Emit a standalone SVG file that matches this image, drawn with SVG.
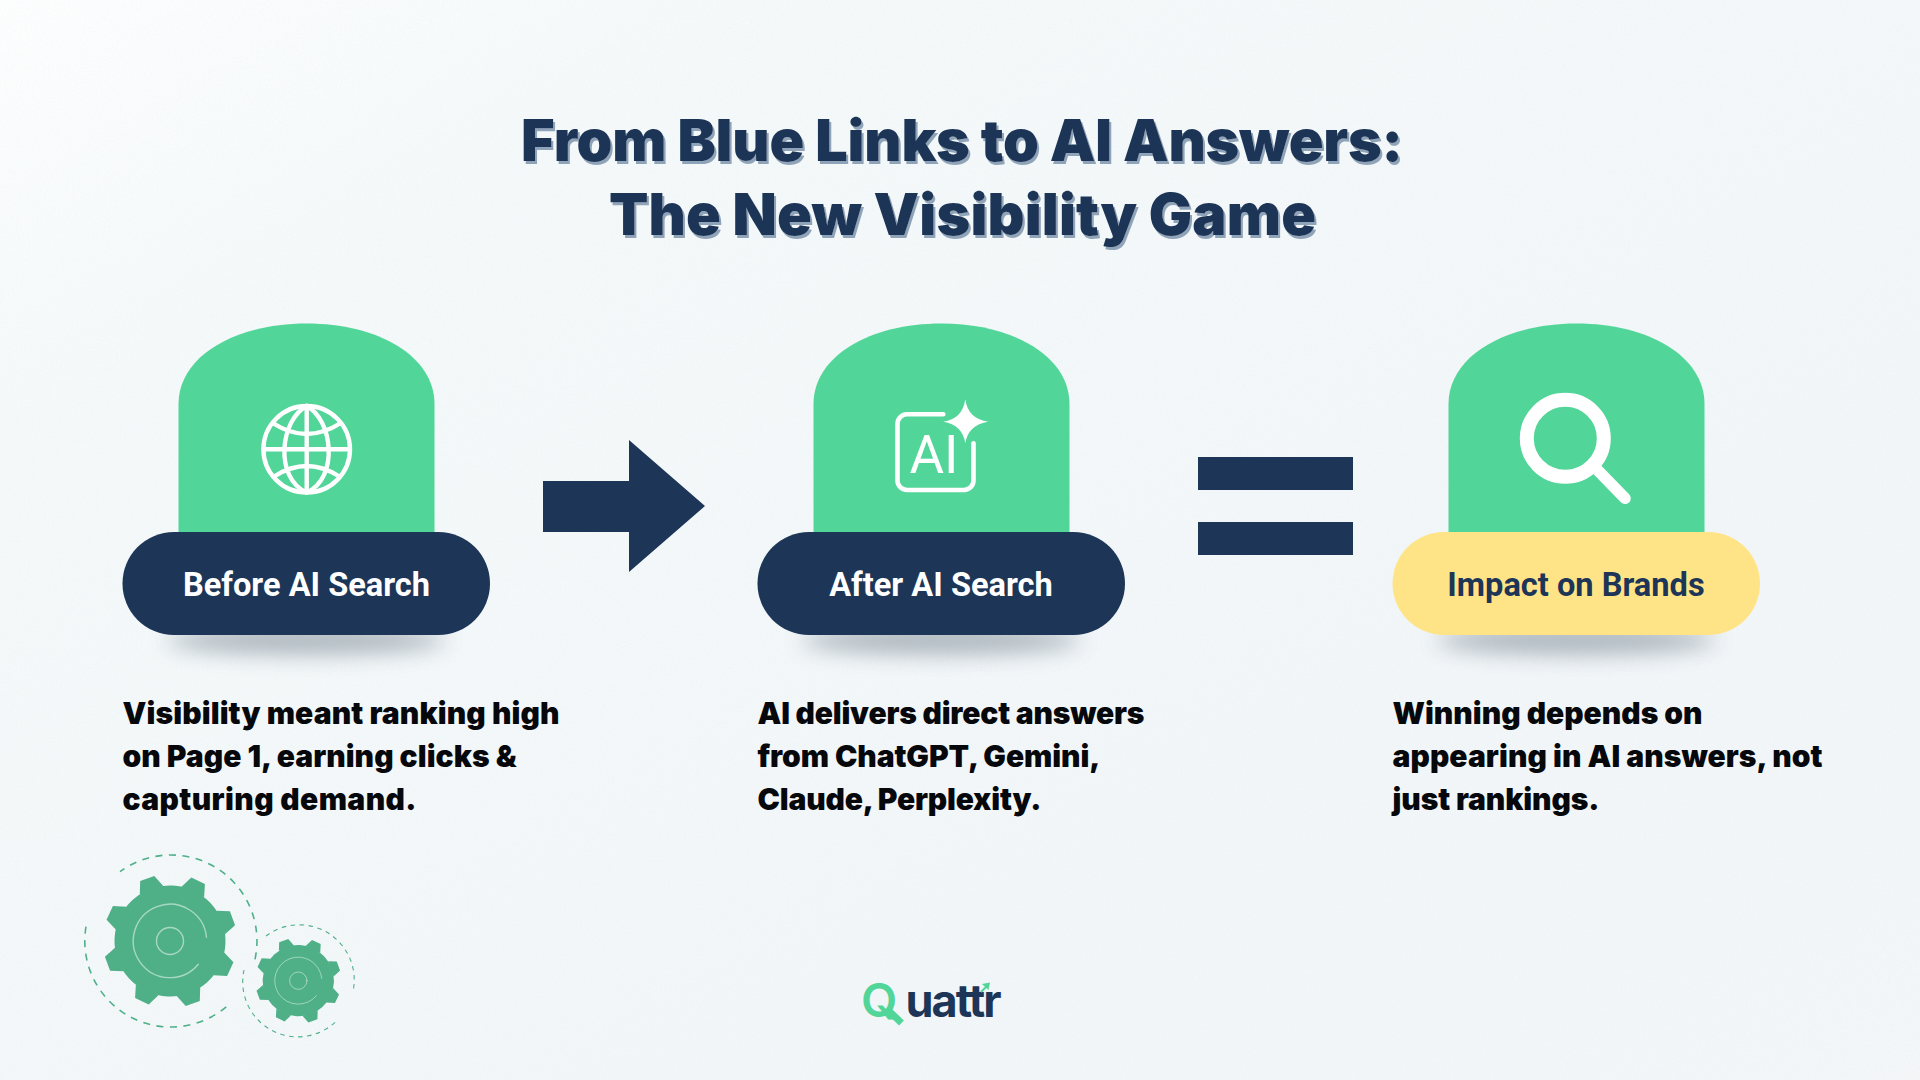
<svg xmlns="http://www.w3.org/2000/svg" xmlns:xlink="http://www.w3.org/1999/xlink" width="1920" height="1080" viewBox="0 0 1920 1080">
<style>
.title{font-family:"Inter","Liberation Sans",sans-serif;font-weight:900;font-size:57.5px;fill:#1d3557;filter:url(#ts)}
.label{font-family:Roboto,"Liberation Sans",sans-serif;font-weight:700;font-size:32.6px;text-anchor:middle}
.body{font-family:"Inter","Liberation Sans",sans-serif;font-weight:900;font-size:30px;fill:#07080c}
.dome{fill:#52d598}
.navy{fill:#1d3557}
.ic{fill:none;stroke:#fff;stroke-linecap:round;stroke-linejoin:round}
.dash{fill:none;stroke:#4fb088}
.arc{fill:none;stroke:#fff;stroke-opacity:.5;stroke-width:1.4;stroke-linecap:round}
</style>
<defs>
<linearGradient id="bg" x1="0" y1="0" x2="1" y2="1"><stop offset="0" stop-color="#fefefe"/><stop offset=".2" stop-color="#f5f9fa"/><stop offset=".7" stop-color="#f2f6f8"/><stop offset="1" stop-color="#f4f6f8"/></linearGradient>
<filter id="ts" x="-5%" y="-20%" width="110%" height="140%"><feDropShadow dx="2" dy="3" stdDeviation="0.4" flood-color="#90a4b9"/></filter>
<filter id="blur" x="-20%" y="-150%" width="140%" height="400%"><feGaussianBlur stdDeviation="11"/></filter>
<filter id="noise" x="0" y="0" width="100%" height="100%"><feTurbulence type="fractalNoise" baseFrequency=".8" numOctaves="2" seed="3"/><feColorMatrix values="0 0 0 0 .65  0 0 0 0 .78  0 0 0 0 .85  .5 .5 0 0 -.42"/></filter>
<polygon id="tooth" points="-12.5,-54 -7.5,-66.5 7.5,-66.5 12.5,-54"/>
<g id="gear">
<g fill="#4fb088" transform="rotate(25)">
<circle r="55.5"/>
<use xlink:href="#tooth"/><use xlink:href="#tooth" transform="rotate(45)"/><use xlink:href="#tooth" transform="rotate(90)"/><use xlink:href="#tooth" transform="rotate(135)"/><use xlink:href="#tooth" transform="rotate(180)"/><use xlink:href="#tooth" transform="rotate(225)"/><use xlink:href="#tooth" transform="rotate(270)"/><use xlink:href="#tooth" transform="rotate(315)"/>
</g>
<circle class="arc" r="13.5"/>
<path class="arc" d="M36.5 -3.8A36.7 36.7 0 1 0 28.3 23.3"/>
</g>
</defs>
<rect id="background" width="1920" height="1080" fill="url(#bg)"/>
<rect width="1920" height="1080" filter="url(#noise)" opacity=".45"/>

<g id="title">
<text class="title" x="521" y="161" textLength="882" lengthAdjust="spacing">From Blue Links to AI Answers:</text>
<text class="title" x="609" y="234.5" textLength="707" lengthAdjust="spacing">The New Visibility Game</text>
</g>

<g id="connectors">
<polygon id="arrow" class="navy" points="543,481 629,481 629,440 705,506 629,572 629,532 543,532"/>
<g id="equals" class="navy"><rect x="1198" y="457" width="155" height="33"/><rect x="1198" y="522" width="155" height="33"/></g>
</g>

<g id="node-before">
<ellipse cx="306" cy="640" rx="140" ry="14" fill="#4a5a6a" opacity=".42" filter="url(#blur)"/>
<path class="dome" d="M178.5 540V404C178.5 356 235 323.5 306.5 323.5S434.5 356 434.5 404V540Z"/>
<g class="ic" stroke-width="4.4">
<circle cx="306.7" cy="449.3" r="43.3"/>
<path d="M306.7 406V492.6M263.4 449.3H350M306.7 406C280 420 274 478 306.7 492.6M306.7 406C333 420 339 478 306.7 492.6M273.5 423.5Q306.7 444.5 340 423.5M275 476Q306.7 456 338.5 476"/>
</g>
<rect class="navy" x="122.5" y="532" width="367.5" height="103" rx="51.5"/>
<text class="label" x="306.5" y="596" fill="#fff">Before AI Search</text>
<text class="body" x="122.5" y="724" textLength="437" lengthAdjust="spacing">Visibility meant ranking high</text>
<text class="body" x="122.5" y="767" textLength="394" lengthAdjust="spacing">on Page 1, earning clicks &amp;</text>
<text class="body" x="122.5" y="810" textLength="294" lengthAdjust="spacing">capturing demand.</text>
</g>

<g id="node-after">
<ellipse cx="941" cy="640" rx="140" ry="14" fill="#4a5a6a" opacity=".42" filter="url(#blur)"/>
<path class="dome" d="M813.5 540V404C813.5 356 870 323.5 941.5 323.5S1069.5 356 1069.5 404V540Z"/>
<path class="ic" stroke-width="4.6" d="M943.3 414.3H907A9.5 9.5 0 0 0 897.5 423.8V480.5A9.5 9.5 0 0 0 907 490H964A9.5 9.5 0 0 0 973.5 480.5V443.3"/>
<path fill="#fff" d="M965.3 399.3Q968 419 988.3 421.7Q968 425 965.3 443.3Q962.5 425 943.3 421.7Q962.5 419 965.3 399.3Z"/>
<text x="934" y="472.7" text-anchor="middle" font-family="Roboto,'Liberation Sans',sans-serif" font-size="53" fill="#fff">AI</text>
<rect class="navy" x="757.5" y="532" width="367.5" height="103" rx="51.5"/>
<text class="label" x="941" y="596" fill="#fff">After AI Search</text>
<text class="body" x="757.5" y="724" textLength="387" lengthAdjust="spacing">AI delivers direct answers</text>
<text class="body" x="757.5" y="767" textLength="343" lengthAdjust="spacing">from ChatGPT, Gemini,</text>
<text class="body" x="757.5" y="810" textLength="284" lengthAdjust="spacing">Claude, Perplexity.</text>
</g>

<g id="node-impact">
<ellipse cx="1576" cy="640" rx="140" ry="14" fill="#4a5a6a" opacity=".42" filter="url(#blur)"/>
<path class="dome" d="M1448.5 540V404C1448.5 356 1505 323.5 1576.5 323.5S1704.5 356 1704.5 404V540Z"/>
<circle class="ic" cx="1565.3" cy="438.3" r="38.5" stroke-width="14"/>
<path class="ic" stroke-width="11.5" d="M1595 467.5L1625 498.3"/>
<rect x="1392.5" y="532" width="367.5" height="103" rx="51.5" fill="#ffe487"/>
<text class="label" x="1576" y="596" fill="#1d3557">Impact on Brands</text>
<text class="body" x="1392.5" y="724" textLength="310" lengthAdjust="spacing">Winning depends on</text>
<text class="body" x="1392.5" y="767" textLength="430" lengthAdjust="spacing">appearing in AI answers, not</text>
<text class="body" x="1392.5" y="810" textLength="207" lengthAdjust="spacing">just rankings.</text>
</g>

<g id="gears">
<use xlink:href="#gear" transform="translate(170 941)"/>
<use xlink:href="#gear" transform="translate(298.3 980.7) scale(.642)"/>
<path class="dash" stroke-width="1.6" stroke-dasharray="7 6.5" d="M86 926.7A86 86 0 0 0 228.3 1005M255 959.3A86 86 0 0 0 120 871.7"/>
<path class="dash" stroke-width="1.1" stroke-dasharray="4.5 4.5" d="M266 936A55 55 0 0 1 352.7 992.7M335 1022.3A55 55 0 0 1 244 970"/>
</g>

<g id="logo">
<text x="861" y="1016.5" font-family="Inter,'Liberation Sans',sans-serif" font-weight="700" font-size="45" fill="#1d3557"><tspan fill="#52d598" font-size="47" font-weight="600">Q</tspan><tspan x="905.5" textLength="96" lengthAdjust="spacing">uattr</tspan></text>
<path d="M889 1011L901.5 1023" stroke="#52d598" stroke-width="7" fill="none"/>
<path d="M981 992L987 986" stroke="#52d598" stroke-width="2" fill="none"/>
<polygon points="982,984 990,982.5 988.5,990" fill="#52d598"/>
</g>
</svg>
